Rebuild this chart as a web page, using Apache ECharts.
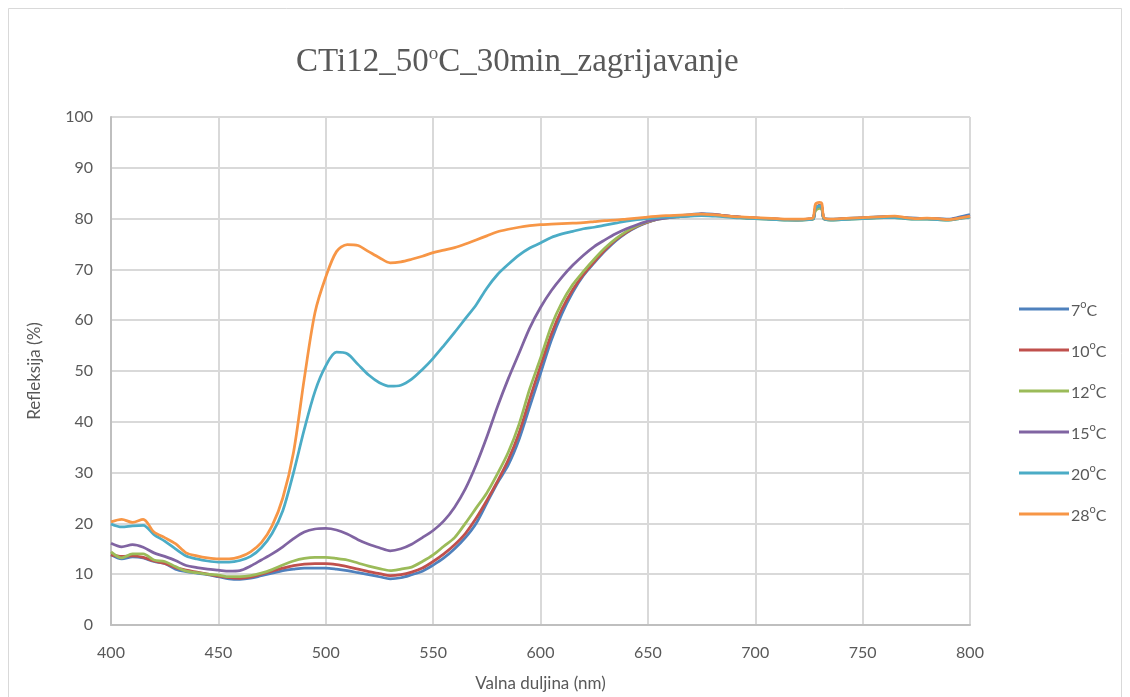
<!DOCTYPE html>
<html><head><meta charset="utf-8">
<script src="https://cdn.jsdelivr.net/npm/echarts@6/dist/echarts.min.js"></script>
<style>html,body{margin:0;padding:0;background:#fff}#c{width:1130px;height:697px}</style>
</head><body><div id="c"></div>
<script>
const wavelengths = [400,405,410,415,420,425,430,435,440,445,450,455,460,465,470,475,480,485,490,495,500,505,510,515,520,525,530,535,540,545,550,555,560,565,570,575,580,585,590,595,600,605,610,615,620,625,630,635,640,645,650,655,660,665,670,675,680,685,690,695,700,705,710,715,720,725,727,728,730,731,732,735,740,745,750,755,760,765,770,775,780,785,790,795,800];

const s7 = [13.8,13.0,13.4,13.2,12.5,12.1,11.0,10.5,10.2,9.9,9.5,9.1,9.0,9.2,9.7,10.2,10.7,11.0,11.2,11.2,11.2,11.0,10.7,10.3,9.9,9.5,9.1,9.3,9.9,10.6,11.8,13.2,15.0,17.2,20.0,24.0,28.0,31.5,36.5,43.0,49.5,56.0,61.3,65.5,68.8,71.3,73.6,75.6,77.2,78.4,79.3,80.0,80.4,80.6,80.8,81.0,80.9,80.6,80.4,80.2,80.1,80.0,79.9,79.8,79.8,79.9,80.0,81.8,82.3,82.0,80.1,79.9,80.0,80.1,80.2,80.3,80.4,80.3,80.2,80.1,80.0,80.0,79.9,80.3,80.8];
const s10 = [13.8,13.5,13.6,13.3,12.6,12.1,11.3,10.8,10.4,10.0,9.6,9.3,9.2,9.4,10.0,10.6,11.2,11.7,12.0,12.1,12.1,11.9,11.5,11.0,10.5,10.1,9.7,9.9,10.4,11.2,12.5,14.0,15.8,18.0,21.0,24.5,28.3,32.5,37.8,44.5,51.0,57.2,62.2,66.0,69.0,71.5,73.8,75.8,77.3,78.5,79.3,80.0,80.4,80.6,80.7,80.9,80.8,80.6,80.4,80.2,80.1,80.0,79.9,79.8,79.7,79.9,80.0,82.0,82.6,82.3,80.0,79.8,79.9,80.0,80.1,80.2,80.3,80.3,80.1,80.0,80.0,79.9,79.8,80.1,80.4];
const s12 = [14.4,13.2,14.0,14.0,12.8,12.5,11.5,10.6,10.3,10.0,9.8,9.5,9.5,9.7,10.2,10.9,11.8,12.6,13.1,13.3,13.3,13.1,12.8,12.2,11.6,11.1,10.7,11.0,11.4,12.5,13.8,15.5,17.2,20.0,23.0,26.0,29.8,34.0,39.5,46.5,52.5,58.8,63.5,67.0,69.6,72.0,74.2,76.0,77.5,78.6,79.4,79.9,80.2,80.4,80.6,80.7,80.6,80.5,80.3,80.1,80.0,79.9,79.8,79.7,79.7,79.8,79.9,81.5,82.0,81.8,79.9,79.7,79.8,79.9,80.0,80.1,80.2,80.2,80.0,79.9,79.9,79.8,79.7,80.0,80.3];
const s15 = [16.1,15.4,15.8,15.3,14.2,13.5,12.7,11.7,11.3,11.0,10.8,10.6,10.7,11.6,12.8,14.0,15.4,17.0,18.3,18.9,19.0,18.7,17.9,16.8,15.9,15.2,14.6,15.0,15.9,17.2,18.6,20.5,23.2,26.8,31.5,37.0,43.0,48.5,53.5,58.5,62.5,65.8,68.5,70.8,72.8,74.5,75.8,77.0,78.0,78.8,79.5,79.9,80.2,80.4,80.6,80.9,80.8,80.6,80.4,80.2,80.1,80.0,79.9,79.8,79.8,79.9,80.0,82.0,82.5,82.2,80.0,79.8,79.9,80.0,80.1,80.2,80.3,80.3,80.1,80.0,80.0,79.9,79.8,80.1,80.5];
const s20 = [19.9,19.3,19.5,19.6,17.8,16.5,15.0,13.6,13.0,12.6,12.4,12.4,12.7,13.5,15.2,18.0,22.5,30.0,38.5,46.0,51.0,53.7,53.4,51.3,49.2,47.7,47.0,47.2,48.4,50.3,52.5,55.0,57.6,60.3,63.0,66.3,69.0,71.0,72.8,74.2,75.2,76.3,77.0,77.5,78.0,78.3,78.7,79.1,79.5,79.8,80.0,80.2,80.3,80.4,80.5,80.6,80.5,80.4,80.2,80.1,80.0,79.9,79.8,79.7,79.7,79.8,79.9,82.0,82.5,82.2,80.0,79.7,79.8,79.9,80.0,80.1,80.2,80.2,80.0,79.9,79.9,79.8,79.7,80.0,80.3];
const s28 = [20.3,20.8,20.2,20.8,18.3,17.2,16.0,14.2,13.6,13.2,13.0,13.0,13.4,14.4,16.2,19.5,25.0,34.0,48.5,61.5,68.5,73.5,74.9,74.7,73.5,72.3,71.3,71.5,72.0,72.6,73.3,73.8,74.3,75.0,75.8,76.6,77.4,77.9,78.3,78.6,78.8,78.9,79.0,79.1,79.2,79.4,79.6,79.7,79.9,80.1,80.3,80.5,80.6,80.7,80.8,80.9,80.8,80.6,80.4,80.3,80.2,80.1,80.0,79.9,79.9,80.0,80.2,82.8,83.2,83.0,80.2,79.9,80.0,80.1,80.2,80.3,80.4,80.5,80.2,80.0,80.1,80.0,79.8,80.1,80.5];

const seriesTemps = ['7','10','12','15','20','28'];
const seriesNames = seriesTemps.map(t => t + 'ºC');
const seriesValues = [s7,s10,s12,s15,s20,s28];
const colors = ['#4f81bd','#c0504d','#9bbb59','#8064a2','#4bacc6','#f79646'];
const xTicks = {min:400, max:800, step:50};
const yTicks = {min:0, max:100, step:10};

const font = 'Lato, "Open Sans", sans-serif';
const serif = '"Liberation Serif", serif';
const chart = echarts.init(document.getElementById('c'));
chart.setOption({
  animation:false,
  backgroundColor:'#fff',
  color: colors,
  graphic:[{type:'rect', shape:{x:8.5,y:8.5,width:1113,height:700}, style:{fill:'none', stroke:'#d9d9d9', lineWidth:1}, silent:true}],
  title:{text:'{a|CTi12_50}{s|o}{a|C_30min_zagrijavanje}', left:291, top:38,
    textStyle:{fontWeight:'normal', rich:{
      a:{fontFamily:serif, fontSize:33, fontWeight:'normal', color:'#595959', lineHeight:36, verticalAlign:'bottom'},
      s:{fontFamily:serif, fontSize:19, fontWeight:'normal', color:'#595959', lineHeight:36, verticalAlign:'top', padding:[2,0,0,0]}
    }}},
  legend:{orient:'vertical', left:1014, top:294, itemWidth:50, itemHeight:14, itemGap:21,
    data: seriesNames.map((n,i)=>({name:n, icon:'path://M0,0 L50,0 L50,3 L0,3 Z', itemStyle:{color:colors[i]}})),
    formatter: n => '{a|' + n.replace('ºC','') + '}{s|o}{a|C}',
    textStyle:{padding:[0,0,0,-3], rich:{
      a:{fontFamily:font, fontSize:16, color:'#595959', lineHeight:20, verticalAlign:'bottom'},
      s:{fontFamily:font, fontSize:11, color:'#595959', lineHeight:20, verticalAlign:'top'}
    }}},
  grid:{left:111, right:160, top:117, bottom:72},
  xAxis:{type:'value', min:xTicks.min, max:xTicks.max, interval:xTicks.step,
    name:'Valna duljina (nm)', nameLocation:'middle', nameGap:50,
    nameTextStyle:{fontFamily:font, fontSize:17, color:'#595959'},
    axisLine:{lineStyle:{color:'#bfbfbf', width:2}}, axisTick:{show:false},
    axisLabel:{fontFamily:font, fontSize:16, color:'#595959', margin:20},
    splitLine:{show:true, lineStyle:{color:'#d9d9d9', width:2}}},
  yAxis:{type:'value', min:yTicks.min, max:yTicks.max, interval:yTicks.step,
    name:'Refleksija (%)', nameLocation:'middle', nameGap:68,
    nameTextStyle:{fontFamily:font, fontSize:17, color:'#595959'},
    axisLine:{show:true, lineStyle:{color:'#bfbfbf', width:2}}, axisTick:{show:false},
    axisLabel:{fontFamily:font, fontSize:16, color:'#595959', margin:18},
    splitLine:{show:true, lineStyle:{color:'#d9d9d9', width:2}}},
  series: seriesNames.map((n,i)=>({
    name:n, type:'line', symbol:'none', smooth:0.3,
    data: wavelengths.map((w,j)=>[w, seriesValues[i][j]]),
    lineStyle:{width:2.75, color:colors[i]}
  }))
});
</script></body></html>
